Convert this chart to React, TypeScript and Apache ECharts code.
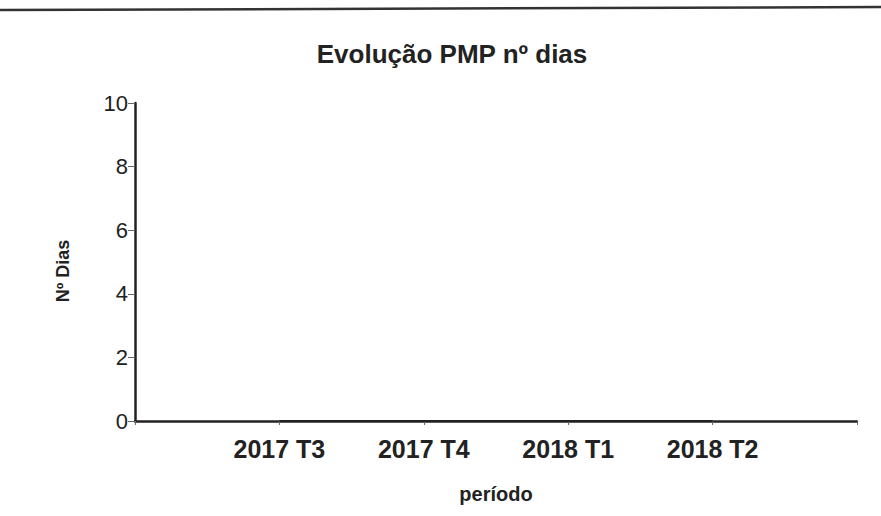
import React, { useEffect, useRef } from "react";
import * as echarts from "echarts";

const categories = ["", "2017 T3", "2017 T4", "2018 T1", "2018 T2", ""];
const pmpDias = [null, 0, 0, 0, 0, null];
const yTicks = { min: 0, max: 10, interval: 2 };

export default function App() {
  const ref = useRef<HTMLDivElement>(null);
  useEffect(() => {
    if (!ref.current) return;
    const chart = echarts.init(ref.current, undefined, { renderer: "svg" });
    const font = "Arial, 'Liberation Sans', sans-serif";
    chart.setOption({
      animation: false,
      backgroundColor: "#ffffff",
      title: {
        text: "Evolução PMP nº dias",
        left: 447,
        top: 36,
        textAlign: "center",
        textStyle: { fontFamily: font, fontSize: 26, fontWeight: "bold", color: "#222" },
      },
      graphic: [
        { type: "line", shape: { x1: 0, y1: 10, x2: 881, y2: 7 }, style: { stroke: "#333", lineWidth: 2.5 } },
      ],
      grid: { left: 135, right: 24, top: 103, bottom: 95 },
      xAxis: {
        type: "category",
        data: categories,
        boundaryGap: false,
        name: "período",
        nameLocation: "middle",
        nameGap: 63,
        nameTextStyle: { fontFamily: font, fontSize: 20, fontWeight: "bold", color: "#222" },
        axisLine: { lineStyle: { color: "#222", width: 2.5 } },
        axisTick: { show: true, alignWithLabel: true, length: 4, lineStyle: { color: "#666" } },
        axisLabel: { fontFamily: font, fontSize: 25, fontWeight: "bold", color: "#222", margin: 15, interval: 0 },
        splitLine: { show: false },
      },
      yAxis: {
        type: "value",
        min: yTicks.min,
        max: yTicks.max,
        interval: yTicks.interval,
        name: "Nº Dias",
        nameLocation: "middle",
        nameGap: 63,
        nameRotate: 90,
        nameTextStyle: { fontFamily: font, fontSize: 18, fontWeight: "bold", color: "#222", padding: [0, 18, 0, 0] },
        axisLine: { show: true, lineStyle: { color: "#222", width: 2.5 } },
        axisTick: { show: true, length: 7, lineStyle: { color: "#666" } },
        axisLabel: { fontFamily: font, fontSize: 22, color: "#222", margin: 7 },
        splitLine: { show: false },
      },
      series: [
        {
          type: "line",
          data: pmpDias,
          showSymbol: false,
          lineStyle: { color: "#222", width: 2 },
        },
      ],
    });
    return () => chart.dispose();
  }, []);
  return (
    <div
      ref={ref}
      style={{ position: "absolute", left: 0, top: 0, width: 881, height: 516 }}
    />
  );
}
